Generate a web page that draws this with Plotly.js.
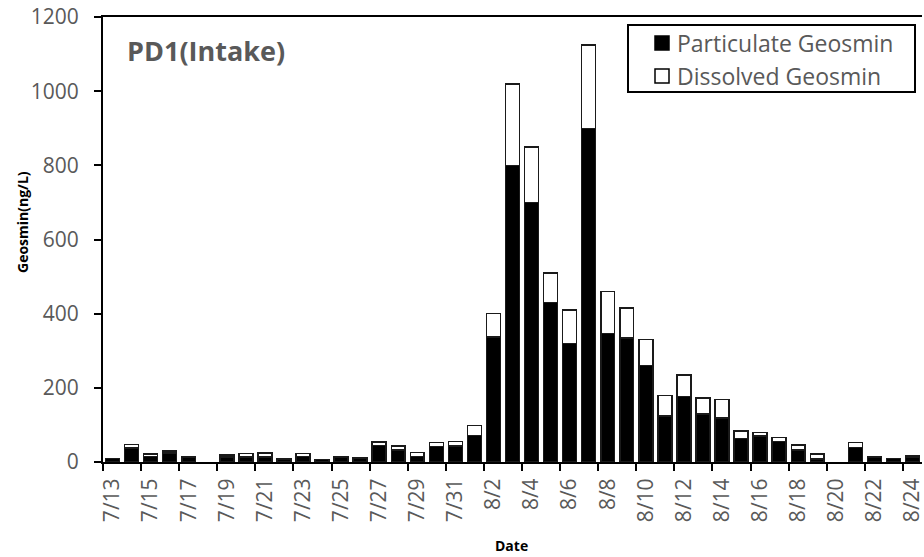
<!DOCTYPE html>
<html>
<head>
<meta charset="utf-8">
<script src="https://cdn.plot.ly/plotly-3.0.1.min.js"></script>
<style>html,body{margin:0;padding:0;background:#fff;}#chart{width:924px;height:557px;}</style>
</head>
<body>
<div id="chart"></div>
<script>
const dates = ["7/13","7/14","7/15","7/16","7/17","7/18","7/19","7/20","7/21","7/22","7/23","7/24","7/25","7/26","7/27","7/28","7/29","7/30","7/31",
  "8/1","8/2","8/3","8/4","8/5","8/6","8/7","8/8","8/9","8/10","8/11","8/12","8/13","8/14","8/15","8/16","8/17","8/18","8/19","8/20","8/21","8/22","8/23","8/24"];
const particulate = [9,38,15,24,13,null,14,13,14,7,15,7,12,10,44,33,15,42,43,
  71,337,800,700,430,320,900,346,334,260,124,176,130,118,64,70,55,32,8,null,39,14,9,13];
const dissolved = [0,9,7,6,1,null,5,10,10,3,8,0,2,1,10,10,10,10,12,
  27,63,220,150,80,90,225,114,81,70,56,59,42,50,20,10,11,14,13,null,13,1,1,5];
const yTicks = [0,200,400,600,800,1000,1200];
const seriesNames = ['Particulate Geosmin', 'Dissolved Geosmin'];

const font = "'Open Sans', 'Noto Sans', sans-serif";
const traces = [
  {type:'bar', name:seriesNames[0], x:dates, y:particulate,
   marker:{color:'#000000', line:{color:'#1a1a1a', width:1.5}}},
  {type:'bar', name:seriesNames[1], x:dates, y:dissolved,
   marker:{color:'#ffffff', line:{color:'#1a1a1a', width:1.5}}}
];

// plot area in px: left 103, right 922, top 17, bottom 462
const L = 103, R = 922, T = 17, B = 462;
const px = v => (v - L) / (R - L);
const py = v => (B - v) / (B - T);

const shapes = [
  {type:'rect', xref:'paper', yref:'paper', x0:px(628), x1:px(915), y0:py(25), y1:py(92),
   line:{color:'#000', width:2}, fillcolor:'#fff', layer:'above'},
  {type:'rect', xref:'paper', yref:'paper', x0:px(655), x1:px(669), y0:py(36), y1:py(50),
   line:{color:'#000', width:1.5}, fillcolor:'#000', layer:'above'},
  {type:'rect', xref:'paper', yref:'paper', x0:px(655), x1:px(669), y0:py(69), y1:py(83),
   line:{color:'#000', width:1.5}, fillcolor:'#fff', layer:'above'}
];

const layout = {
  width:924, height:557,
  margin:{l:L, r:924-R, t:T, b:557-B},
  barmode:'stack', bargap:0.27,
  paper_bgcolor:'#fff', plot_bgcolor:'#fff',
  font:{family:font, color:'#595959'},
  showlegend:false,
  xaxis:{type:'category', showline:true, linecolor:'#000', linewidth:2, mirror:true,
    ticks:'outside', ticklen:7, tickwidth:2, tickcolor:'#000', tickson:'boundaries',
    dtick:2, tickangle:-90, ticklabelstandoff:6, tickfont:{size:21, color:'#595959'}, showgrid:false},
  yaxis:{range:[0,1200], tickvals:yTicks, showline:true, linecolor:'#000', linewidth:2,
    ticks:'outside', ticklen:7, tickwidth:2, tickcolor:'#000', showgrid:false, zeroline:false,
    ticklabelstandoff:11, tickfont:{size:21, color:'#595959'}},
  shapes:shapes,
  annotations:[
    {text:'<b>PD1(Intake)</b>', xref:'paper', yref:'paper', x:px(125), y:py(51),
     xanchor:'left', yanchor:'middle', showarrow:false, font:{size:27, color:'#595959', family:font}},
    {text:'<b>Date</b>', xref:'paper', yref:'paper', x:px(511), y:0, yshift:-83,
     xanchor:'center', yanchor:'middle', showarrow:false, font:{size:14, color:'#000', family:font}},
    {text:'<b>Geosmin(ng/L)</b>', xref:'paper', yref:'paper', x:0, y:py(222), xshift:-81,
     xanchor:'center', yanchor:'middle', textangle:-90, showarrow:false, font:{size:14, color:'#000', family:font}},
    {text:seriesNames[0], xref:'paper', yref:'paper', x:px(675), y:py(43),
     xanchor:'left', yanchor:'middle', showarrow:false, font:{size:23, color:'#595959', family:font}},
    {text:seriesNames[1], xref:'paper', yref:'paper', x:px(675), y:py(76),
     xanchor:'left', yanchor:'middle', showarrow:false, font:{size:23, color:'#595959', family:font}}
  ]
};
Plotly.newPlot('chart', traces, layout, {displayModeBar:false, staticPlot:true});
</script>
</body>
</html>
